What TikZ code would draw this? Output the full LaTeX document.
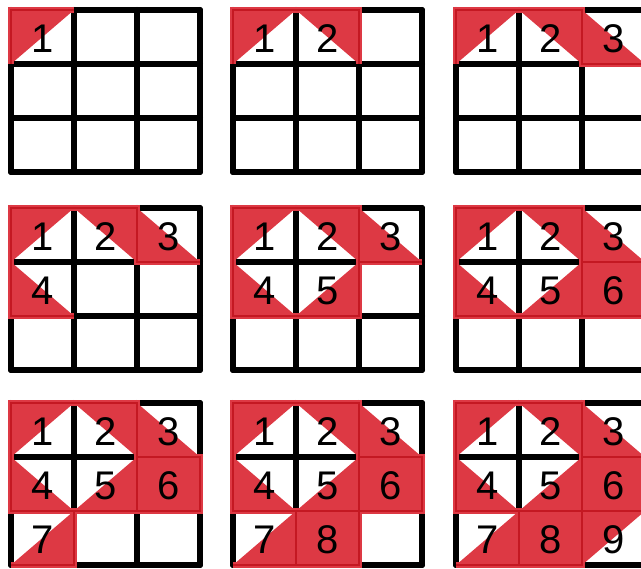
\documentclass[tikz,border=0pt]{standalone}
\usepackage{fontspec}
\newfontfamily\digitfont{Liberation Sans}
\definecolor{cellred}{RGB}{221,57,68}
\definecolor{edgered}{RGB}{196,24,34}
\tikzset{
  gridline/.style={line width=6pt, line cap=round},
  coverline/.style={draw=cellred, line width=6pt},
  edgeline/.style={draw=edgered, line width=2pt},
  digit/.style={font=\digitfont\fontsize{40}{40}\selectfont, inner sep=0pt}
}
% corners of the red piece of cell \n: omitted corner from list
\newcommand\piececorners{%
  \pgfmathtruncatemacro\ccol{mod(\n-1,3)}%
  \pgfmathtruncatemacro\crow{div(\n-1,3)}%
  \pgfmathtruncatemacro\om{{2,3,1,1,0,4,0,4,2}[\n-1]}%
  \pgfmathtruncatemacro\ka{mod(\om+1,4)}%
  \pgfmathtruncatemacro\kb{mod(\om+2,4)}%
  \pgfmathtruncatemacro\kc{mod(\om+3,4)}%
}
\begin{document}
\begin{tikzpicture}[x=1pt,y=-1pt]
\useasboundingbox (0,0) rectangle (641,569);
\clip (0,0) rectangle (641,569);
\foreach \p in {1,...,9}{
  \pgfmathtruncatemacro\pc{mod(\p-1,3)}
  \pgfmathtruncatemacro\pr{div(\p-1,3)}
  \pgfmathsetmacro\px{{11,233,456}[\pc]}
  \pgfmathsetmacro\py{{10,208,403}[\pr]}
  \begin{scope}[shift={(\px,\py)}]
    \foreach \k in {0,...,3}{
      \draw[gridline] (\k*63,0) -- (\k*63,162);
      \draw[gridline] (0,\k*54) -- (189,\k*54);
    }
    \foreach \n in {1,...,\p}{
      \piececorners
      \begin{scope}[shift={(\ccol*63,\crow*54)}]
        \coordinate (k0) at (0,0);
        \coordinate (k1) at (63,0);
        \coordinate (k2) at (63,54);
        \coordinate (k3) at (0,54);
        \ifnum\om=4
          \fill[cellred] (k0) rectangle (k2);
          \draw[coverline] (k0) rectangle (k2);
        \else
          \fill[cellred] (k\ka) -- (k\kb) -- (k\kc) -- cycle;
          \draw[coverline] (k\ka) -- (k\kb) -- (k\kc);
        \fi
      \end{scope}
    }
    \foreach \n in {1,...,\p}{
      \piececorners
      \begin{scope}[shift={(\ccol*63,\crow*54)}]
        \coordinate (k0) at (0,0);
        \coordinate (k1) at (63,0);
        \coordinate (k2) at (63,54);
        \coordinate (k3) at (0,54);
        \ifnum\om=4
          \draw[edgeline] (k0) rectangle (k2);
        \else
          \draw[edgeline] (k\ka) -- (k\kb) -- (k\kc);
        \fi
        \node[digit] (d\p-\n) at (31.5,29) {\n};
      \end{scope}
    }
  \end{scope}
}
\end{tikzpicture}
\end{document}
